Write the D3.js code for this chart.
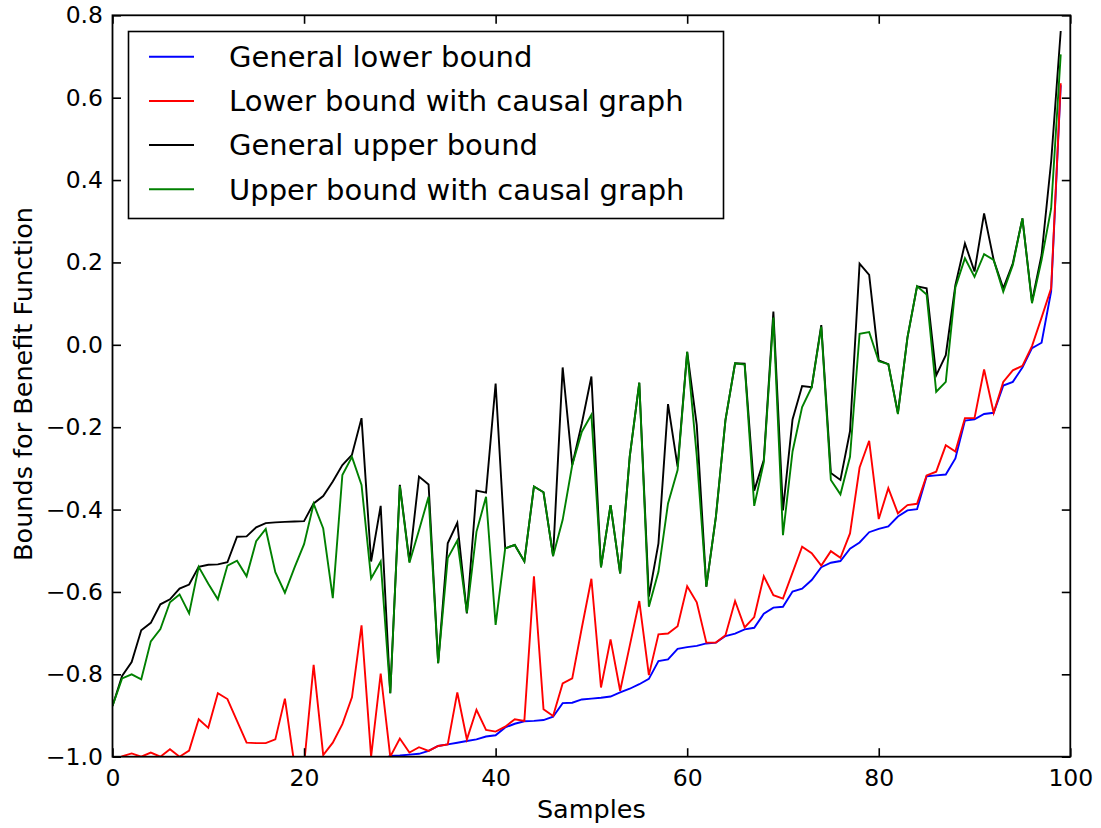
<!DOCTYPE html>
<html>
<head>
<meta charset="utf-8">
<script src="https://cdn.jsdelivr.net/npm/d3@7/dist/d3.min.js"></script>
<style>
  html, body { margin: 0; padding: 0; background: #ffffff; }
  svg { display: block; font-family: "DejaVu Sans", sans-serif; }
</style>
</head>
<body>
<svg id="chart" width="1101" height="828"></svg>
<script>
// ---------------- data ----------------
const xTicks = [0, 20, 40, 60, 80, 100];
const yTicks = [-1.0, -0.8, -0.6, -0.4, -0.2, 0.0, 0.2, 0.4, 0.6, 0.8];
const xLabel = "Samples";
const yLabel = "Bounds for Benefit Function";
const seriesNames = [
  "General lower bound",
  "Lower bound with causal graph",
  "General upper bound",
  "Upper bound with causal graph"
];
const seriesColors = ["#0000ff", "#ff0000", "#000000", "#008000"];

const generalLower = [
  -1.62, -1.55, -1.50, -1.46, -1.42, -1.38, -1.35, -1.32, -1.29, -1.26,
  -1.24, -1.22, -1.20, -1.18, -1.16, -1.14, -1.12, -1.11, -1.10, -1.09,
  -1.08, -1.07, -1.06, -1.05, -1.04, -1.03, -1.02, -1.015, -1.008, -0.998,
  -0.997, -0.995, -0.993, -0.986, -0.974, -0.970, -0.966, -0.962, -0.958, -0.951,
  -0.948, -0.929, -0.920, -0.914, -0.913, -0.911, -0.903, -0.870, -0.869, -0.861,
  -0.859, -0.857, -0.854, -0.844, -0.835, -0.824, -0.811, -0.768, -0.764, -0.738,
  -0.734, -0.731, -0.725, -0.723, -0.707, -0.701, -0.691, -0.687, -0.653, -0.638,
  -0.636, -0.599, -0.592, -0.571, -0.540, -0.529, -0.525, -0.495, -0.480, -0.455,
  -0.447, -0.441, -0.417, -0.402, -0.399, -0.319, -0.317, -0.315, -0.276, -0.184,
  -0.181, -0.168, -0.165, -0.099, -0.090, -0.055, -0.008, 0.005, 0.130, 0.630
];

const lowerCausal = [
  -1.03, -0.999, -0.992, -1.0, -0.990, -1.0, -0.982, -1.0, -0.985, -0.909,
  -0.930, -0.846, -0.860, -0.913, -0.966, -0.967, -0.967, -0.958, -0.859, -1.02,
  -1.02, -0.777, -0.996, -0.966, -0.921, -0.856, -0.681, -1.0, -0.798, -1.0,
  -0.956, -0.990, -0.977, -0.986, -0.974, -0.970, -0.844, -0.958, -0.886, -0.935,
  -0.939, -0.927, -0.909, -0.913, -0.562, -0.885, -0.901, -0.822, -0.810, -0.687,
  -0.568, -0.832, -0.715, -0.840, -0.731, -0.622, -0.802, -0.703, -0.701, -0.683,
  -0.586, -0.625, -0.723, -0.723, -0.705, -0.622, -0.686, -0.661, -0.562, -0.608,
  -0.616, -0.553, -0.490, -0.506, -0.536, -0.501, -0.517, -0.458, -0.298, -0.233,
  -0.423, -0.348, -0.409, -0.389, -0.386, -0.317, -0.308, -0.244, -0.259, -0.178,
  -0.178, -0.060, -0.165, -0.090, -0.062, -0.051, -0.003, 0.066, 0.137, 0.635
];

const generalUpper = [
  -0.877, -0.804, -0.770, -0.693, -0.675, -0.630, -0.618, -0.592, -0.582, -0.539,
  -0.534, -0.533, -0.528, -0.466, -0.465, -0.443, -0.433, -0.431, -0.430, -0.429,
  -0.428, -0.385, -0.367, -0.332, -0.292, -0.267, -0.178, -0.526, -0.391, -0.846,
  -0.340, -0.526, -0.320, -0.339, -0.773, -0.482, -0.432, -0.652, -0.354, -0.359,
  -0.094, -0.494, -0.486, -0.526, -0.344, -0.358, -0.513, -0.055, -0.292, -0.191,
  -0.077, -0.540, -0.389, -0.555, -0.272, -0.092, -0.611, -0.482, -0.144, -0.296,
  -0.017, -0.195, -0.587, -0.417, -0.182, -0.045, -0.046, -0.354, -0.280, 0.081,
  -0.402, -0.181, -0.100, -0.103, 0.048, -0.311, -0.328, -0.210, 0.197, 0.170,
  -0.038, -0.047, -0.166, 0.018, 0.142, 0.137, -0.074, -0.025, 0.145, 0.246,
  0.178, 0.319, 0.206, 0.137, 0.198, 0.307, 0.105, 0.218, 0.445, 0.762
];

const upperCausal = [
  -0.877, -0.810, -0.800, -0.812, -0.720, -0.690, -0.625, -0.606, -0.652, -0.539,
  -0.580, -0.618, -0.536, -0.524, -0.562, -0.477, -0.447, -0.552, -0.602, -0.541,
  -0.484, -0.386, -0.446, -0.615, -0.316, -0.272, -0.340, -0.567, -0.526, -0.846,
  -0.343, -0.529, -0.450, -0.369, -0.773, -0.518, -0.475, -0.650, -0.454, -0.369,
  -0.680, -0.494, -0.486, -0.526, -0.344, -0.358, -0.513, -0.425, -0.292, -0.211,
  -0.170, -0.540, -0.389, -0.555, -0.272, -0.092, -0.636, -0.551, -0.385, -0.304,
  -0.017, -0.270, -0.587, -0.417, -0.182, -0.045, -0.048, -0.391, -0.285, 0.066,
  -0.462, -0.259, -0.151, -0.103, 0.044, -0.328, -0.363, -0.272, 0.027, 0.031,
  -0.040, -0.047, -0.168, 0.018, 0.142, 0.122, -0.114, -0.090, 0.139, 0.210,
  0.165, 0.220, 0.206, 0.129, 0.194, 0.307, 0.101, 0.206, 0.331, 0.705
];

const seriesValues = [generalLower, lowerCausal, generalUpper, upperCausal];

// ---------------- layout ----------------
const svg = d3.select("#chart");
const plotLeft = 112.5, plotRight = 1070.3, plotTop = 15.3, plotBottom = 756.7;
const x = d3.scaleLinear().domain([0, 100]).range([plotLeft, plotRight]);
const y = d3.scaleLinear().domain([-1.0, 0.8]).range([plotBottom, plotTop]);

const tickFont = 23.5;
const tickLen = 8.5;

// clip
svg.append("defs").append("clipPath").attr("id", "plotclip")
  .append("rect")
  .attr("x", plotLeft).attr("y", plotTop)
  .attr("width", plotRight - plotLeft).attr("height", plotBottom - plotTop);

// series lines
const line = d3.line()
  .x((d, i) => x(i))
  .y(d => y(d));

const plot = svg.append("g").attr("clip-path", "url(#plotclip)");
seriesValues.forEach((vals, k) => {
  plot.append("path")
    .datum(vals)
    .attr("fill", "none")
    .attr("stroke", seriesColors[k])
    .attr("stroke-width", 1.9)
    .attr("stroke-linejoin", "miter")
    .attr("d", line);
});

// axes
const fmt = v => d3.format(".1f")(v).replace("-", "\u2212");

const gB = svg.append("g").attr("transform", `translate(0,${plotBottom})`)
  .call(d3.axisBottom(x).tickValues(xTicks).tickFormat(d3.format("d"))
    .tickSizeInner(-tickLen).tickSizeOuter(0).tickPadding(12.5));
const gT = svg.append("g").attr("transform", `translate(0,${plotTop})`)
  .call(d3.axisTop(x).tickValues(xTicks).tickFormat("")
    .tickSizeInner(-tickLen).tickSizeOuter(0));
const gL = svg.append("g").attr("transform", `translate(${plotLeft},0)`)
  .call(d3.axisLeft(y).tickValues(yTicks).tickFormat(fmt)
    .tickSizeInner(-tickLen).tickSizeOuter(0).tickPadding(9.5));
const gR = svg.append("g").attr("transform", `translate(${plotRight},0)`)
  .call(d3.axisRight(y).tickValues(yTicks).tickFormat("")
    .tickSizeInner(-tickLen).tickSizeOuter(0));

[gB, gT, gL, gR].forEach(g => {
  g.select(".domain").remove();
  g.selectAll(".tick line").attr("stroke", "#000").attr("stroke-width", 1.6);
  g.selectAll(".tick text")
    .attr("fill", "#000")
    .style("font-family", "'DejaVu Sans', sans-serif")
    .style("font-size", tickFont + "px");
});

// frame
svg.append("rect")
  .attr("x", plotLeft).attr("y", plotTop)
  .attr("width", plotRight - plotLeft).attr("height", plotBottom - plotTop)
  .attr("fill", "none").attr("stroke", "#000").attr("stroke-width", 1.8);

// axis labels
svg.append("text")
  .attr("x", (plotLeft + plotRight) / 2).attr("y", 818)
  .attr("text-anchor", "middle")
  .style("font-size", "25.5px")
  .attr("fill", "#000")
  .text(xLabel);

svg.append("text")
  .attr("transform", `translate(32,${(plotTop + plotBottom) / 2 - 2}) rotate(-90)`)
  .attr("text-anchor", "middle")
  .style("font-size", "25.5px")
  .attr("fill", "#000")
  .text(yLabel);

// legend
const lg = svg.append("g");
lg.append("rect")
  .attr("x", 128.5).attr("y", 31.5)
  .attr("width", 595).attr("height", 187)
  .attr("fill", "#fff").attr("stroke", "#000").attr("stroke-width", 1.6);

const rowY = [56.7, 101, 145, 189.3];
seriesNames.forEach((name, k) => {
  lg.append("line")
    .attr("x1", 149).attr("x2", 194)
    .attr("y1", rowY[k]).attr("y2", rowY[k])
    .attr("stroke", seriesColors[k]).attr("stroke-width", 1.9);
  lg.append("text")
    .attr("x", 229).attr("y", rowY[k])
    .attr("dy", "0.36em")
    .style("font-size", "29px")
    .attr("fill", "#000")
    .text(name);
});
</script>
</body>
</html>
